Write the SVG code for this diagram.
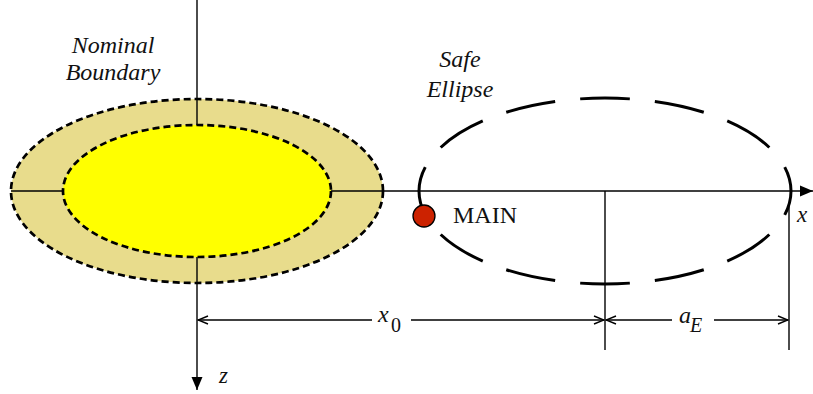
<svg xmlns="http://www.w3.org/2000/svg" width="813" height="394" viewBox="0 0 813 394">
<style>
.ax{stroke:#000;stroke-width:1.4;fill:none}
.nom{stroke:#000;stroke-width:2.7;stroke-dasharray:7 4}
.lbl{font-style:italic;font-size:24px;fill:#111}
.rm{font-size:24px;fill:#111}
.sub{font-size:20px}
.sm{font-size:23px}
</style>
<defs>
<marker id="open" markerUnits="userSpaceOnUse" markerWidth="12" markerHeight="10" refX="11" refY="5" orient="auto-start-reverse">
<path d="M1,1 L11,5 L1,9" fill="none" stroke="#000" stroke-width="1.4"/>
</marker>
<marker id="solid" markerUnits="userSpaceOnUse" markerWidth="14" markerHeight="12" refX="13" refY="6" orient="auto">
<path d="M0,0.5 L13,6 L0,11.5 Z" fill="#000"/>
</marker>
</defs>
<rect width="813" height="394" fill="#fff"/>
<g font-family="Liberation Serif, Times New Roman, serif">
<g id="nominal-boundary">
<ellipse cx="197" cy="191" rx="186" ry="92" fill="#E8DC8C" class="nom"/>
<ellipse cx="197" cy="191" rx="134" ry="66" fill="#FFFF00" class="nom"/>
<text class="lbl" x="113" y="53" text-anchor="middle">Nominal</text>
<text class="lbl" x="113" y="80" text-anchor="middle">Boundary</text>
</g>
<g id="connectors">
<line class="ax" x1="197" y1="0" x2="197" y2="125"/>
<line class="ax" x1="197" y1="257" x2="197" y2="390" marker-end="url(#solid)"/>
<line class="ax" x1="11" y1="191" x2="63" y2="191"/>
<line class="ax" x1="331" y1="191" x2="813" y2="191" marker-end="url(#solid)"/>
<line class="ax" x1="605" y1="191" x2="605" y2="350"/>
<line class="ax" x1="789" y1="203" x2="789" y2="350"/>
<line class="ax" x1="198" y1="320" x2="372" y2="320" marker-start="url(#open)"/>
<line class="ax" x1="411" y1="320" x2="604" y2="320" marker-end="url(#open)"/>
<line class="ax" x1="606" y1="320" x2="672" y2="320" marker-start="url(#open)"/>
<line class="ax" x1="714" y1="320" x2="788" y2="320" marker-end="url(#open)"/>
</g>
<g id="safe-ellipse">
<path d="M419,191 A186,93 0 0 1 791,191 A186,93 0 0 1 419,191 Z" pathLength="900" fill="none" stroke="#000" stroke-width="3" stroke-dasharray="50 25" stroke-dashoffset="25"/>
<text class="lbl" x="460" y="67" text-anchor="middle">Safe</text>
<text class="lbl" x="460" y="97" text-anchor="middle">Ellipse</text>
</g>
<g id="main">
<circle cx="424" cy="216" r="11" fill="#CC2200" stroke="#000" stroke-width="1.3"/>
<text class="rm" x="453" y="223">MAIN</text>
</g>
<g id="labels">
<text class="lbl" x="378" y="322">x</text>
<text class="rm sub" x="391" y="332">0</text>
<text class="lbl" x="679" y="323">a</text>
<text class="lbl sub" x="690" y="332">E</text>
<text class="lbl sm" x="219" y="383">z</text>
<text class="lbl sm" x="797" y="222">x</text>
</g>
</g>
</svg>
